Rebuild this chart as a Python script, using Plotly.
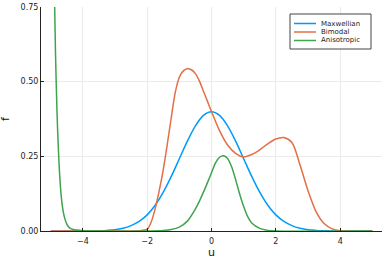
import plotly.graph_objects as go

# Maxwellian
u_max = [-5.0, -4.0, -3.75, -3.5, -3.25, -3.0, -2.75, -2.5, -2.25, -2.0, -1.75, -1.5, -1.25, -1.0, -0.75, -0.5, -0.25,
         0.0, 0.25, 0.5, 0.75, 1.0, 1.25, 1.5, 1.75, 2.0, 2.25, 2.5, 2.75, 3.0, 3.25, 3.5, 3.75, 4.0, 5.0]
f_max = [0.0, 0.0001, 0.0004, 0.001, 0.002, 0.004, 0.009, 0.018, 0.032, 0.054, 0.086, 0.130, 0.183, 0.242, 0.301, 0.352, 0.387,
         0.399, 0.387, 0.352, 0.301, 0.242, 0.183, 0.130, 0.086, 0.054, 0.032, 0.018, 0.009, 0.004, 0.002, 0.001, 0.0004, 0.0001, 0.0]

# Bimodal
u_bi = [-5.0, -2.5, -2.25, -2.0, -1.875, -1.75, -1.625, -1.5, -1.375, -1.25, -1.125, -1.0, -0.875, -0.75, -0.625,
        -0.5, -0.375, -0.25, -0.125, 0.0, 0.25, 0.5, 0.75, 1.0, 1.25, 1.5, 1.75, 2.0, 2.25, 2.5, 2.75, 3.0, 3.25,
        3.5, 3.75, 4.0, 5.0]
f_bi = [0.0, 0.0, 0.0005, 0.006, 0.03, 0.075, 0.135, 0.205, 0.29, 0.38, 0.465, 0.515, 0.536, 0.543, 0.54,
        0.527, 0.502, 0.468, 0.434, 0.40, 0.336, 0.288, 0.260, 0.248, 0.256, 0.272, 0.292, 0.308, 0.313, 0.296,
        0.222, 0.135, 0.065, 0.025, 0.007, 0.0005, 0.0]

# Anisotropic
u_ani = [-5.0, -4.95, -4.9, -4.85, -4.8, -4.75, -4.7, -4.65, -4.6, -4.55, -4.5, -4.45, -4.4, -4.3, -4.2, -4.0, -3.5,
         -2.0, -1.5, -1.25, -1.0, -0.75, -0.5, -0.375, -0.25, -0.125, 0.0, 0.125, 0.25, 0.375, 0.5, 0.625, 0.75,
         0.875, 1.0, 1.125, 1.25, 1.5, 1.75, 2.0, 5.0]
f_ani = [2.2, 1.4, 0.92, 0.6, 0.39, 0.25, 0.155, 0.095, 0.06, 0.038, 0.024, 0.015, 0.01, 0.005, 0.003, 0.001, 0.0,
         0.0, 0.002, 0.005, 0.013, 0.033, 0.074, 0.10, 0.13, 0.162, 0.195, 0.228, 0.247, 0.252, 0.243, 0.215, 0.172,
         0.124, 0.082, 0.048, 0.027, 0.009, 0.002, 0.0, 0.0]

x_ticks = [-4, -2, 0, 2, 4]
y_ticks = [0.0, 0.25, 0.5, 0.75]
y_tick_text = ["0.00", "0.25", "0.50", "0.75"]
x_title = "u"
y_title = "f"

names = ["Maxwellian", "Bimodal", "Anisotropic"]
colors = ["#009AFA", "#E36F47", "#3EA44E"]
us = [u_max, u_bi, u_ani]
fs = [f_max, f_bi, f_ani]

W, H = 390, 260
ML, MR, MT, MB = 41, 8, 7, 29
PW, PH = W - ML - MR, H - MT - MB


def px_x(p):
    return (p - ML) / PW


def px_y(p):
    return (H - MB - p) / PH


fig = go.Figure()
for name, u, f, c in zip(names, us, fs, colors):
    fig.add_trace(go.Scatter(x=u, y=f, mode="lines", name=name, showlegend=False,
                             line=dict(color=c, width=1.5, shape="spline", smoothing=0.8)))

axis_common = dict(
    showgrid=True, gridcolor="#ebebeb", gridwidth=1,
    showline=True, linecolor="#222222", linewidth=1,
    ticks="inside", ticklen=3, tickcolor="#222222",
    zeroline=False, mirror=False, automargin=False,
    tickfont=dict(size=8, color="#222222"),
)

# custom compact legend (box, line samples, labels)
shapes = [dict(type="rect", xref="paper", yref="paper",
               x0=px_x(290), x1=px_x(371), y0=px_y(49), y1=px_y(14),
               line=dict(color="#444444", width=1), fillcolor="white", layer="above")]
annotations = []
for i, (name, c) in enumerate(zip(names, colors)):
    row_y = 23.5 + 8.5 * i
    shapes.append(dict(type="line", xref="paper", yref="paper",
                       x0=px_x(294), x1=px_x(316), y0=px_y(row_y), y1=px_y(row_y),
                       line=dict(color=c, width=1.5), layer="above"))
    annotations.append(dict(xref="paper", yref="paper", x=px_x(320), y=px_y(row_y),
                            text=name, showarrow=False, xanchor="left", yanchor="middle",
                            borderpad=0, font=dict(size=7, color="#222222")))

# axis titles
annotations.append(dict(xref="paper", yref="paper", x=0.5, y=px_y(252), text=x_title,
                        showarrow=False, xanchor="center", yanchor="middle", borderpad=0,
                        font=dict(size=11, color="#111111")))
annotations.append(dict(xref="paper", yref="paper", x=px_x(5), y=0.5, text=y_title, textangle=-90,
                        showarrow=False, xanchor="center", yanchor="middle", borderpad=0,
                        font=dict(size=11, color="#111111")))

fig.update_layout(
    width=W, height=H,
    margin=dict(l=ML, r=MR, t=MT, b=MB, autoexpand=False),
    paper_bgcolor="white", plot_bgcolor="white",
    font=dict(family="DejaVu Sans", size=8, color="#222222"),
    xaxis=dict(range=[-5.3, 5.3], tickvals=x_ticks, ticklabelstandoff=2, **axis_common),
    yaxis=dict(range=[0, 0.75], tickvals=y_ticks, ticktext=y_tick_text, **axis_common),
    shapes=shapes,
    annotations=annotations,
    showlegend=False,
)

fig.write_html("out.html", config={"displayModeBar": False, "staticPlot": True},
               post_script="document.body.style.margin='0px';document.body.style.overflow='hidden';")
